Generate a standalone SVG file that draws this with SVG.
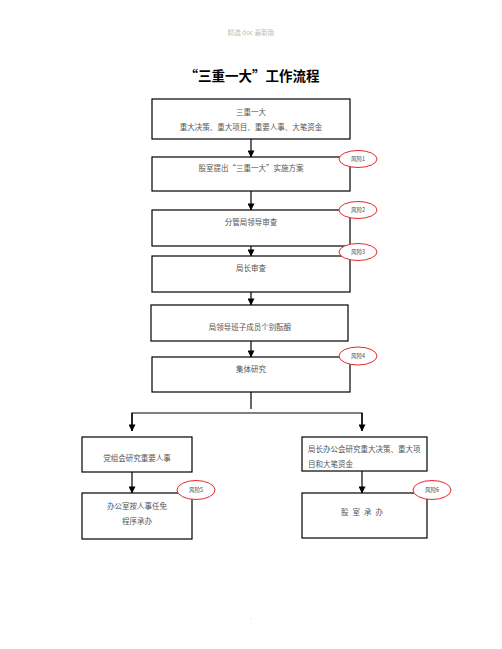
<svg xmlns="http://www.w3.org/2000/svg" width="502" height="649" viewBox="0 0 502 649">
<defs>
<style>
.box{fill:#fff;stroke:#000;stroke-width:1.2}
.t{font-family:"Noto Sans CJK SC","Liberation Serif",serif;font-size:7.5px;fill:#555;text-anchor:middle}
.risk{fill:#fff;stroke:#e8262a;stroke-width:1}
.rt{font-family:"Noto Sans CJK SC","Liberation Serif",serif;font-size:5.5px;fill:#444;text-anchor:middle}
.ln{stroke:#000;stroke-width:1.2;fill:none}
</style>
<marker id="ah" viewBox="0 0 8 8" refX="7.5" refY="4" markerWidth="7" markerHeight="7" markerUnits="userSpaceOnUse" orient="auto">
<path d="M0,0 L8,4 L0,8 Z" fill="#000"/>
</marker>
</defs>
<rect width="502" height="649" fill="#fff"/>
<text x="251" y="35" style="font-family:'Noto Sans CJK SC','Liberation Serif',serif;font-size:6.5px;fill:#bbb;text-anchor:middle">精选 doc 最新版</text>
<text x="252" y="81" style="font-family:'Noto Sans CJK SC','Liberation Sans',sans-serif;font-size:13.5px;font-weight:bold;fill:#000;text-anchor:middle">“三重一大”工作流程</text>

<g id="connectors">
<line class="ln" x1="251" y1="139" x2="251" y2="157" marker-end="url(#ah)"/>
<line class="ln" x1="251" y1="191" x2="251" y2="210" marker-end="url(#ah)"/>
<line class="ln" x1="251" y1="246" x2="251" y2="256" marker-end="url(#ah)"/>
<line class="ln" x1="251" y1="292" x2="251" y2="305" marker-end="url(#ah)"/>
<line class="ln" x1="251" y1="341" x2="251" y2="357" marker-end="url(#ah)"/>
<line class="ln" x1="251" y1="392" x2="251" y2="409"/>
<polyline class="ln" points="132,431 132,413 362,413 362,431" />
<line class="ln" x1="132" y1="413" x2="132" y2="431" marker-end="url(#ah)"/>
<line class="ln" x1="362" y1="413" x2="362" y2="431" marker-end="url(#ah)"/>
<line class="ln" x1="132" y1="472" x2="132" y2="493" marker-end="url(#ah)"/>
<line class="ln" x1="362" y1="471" x2="362" y2="493" marker-end="url(#ah)"/>
</g>

<g id="n1"><rect class="box" x="152" y="99" width="198" height="40"/>
<text class="t" x="251" y="115">三重一大</text>
<text class="t" x="251" y="130">重大决策、重大项目、重要人事、大笔资金</text></g>

<g id="n2"><rect class="box" x="152" y="157" width="198" height="34"/>
<text class="t" x="251" y="171">股室提出“三重一大”实施方案</text></g>
<g id="r1"><ellipse class="risk" cx="358" cy="159" rx="19" ry="8.5"/><text class="rt" x="358" y="161">风险1</text></g>

<g id="n3"><rect class="box" x="152" y="210" width="198" height="36"/>
<text class="t" x="251" y="225">分管局领导审查</text></g>
<g id="r2"><ellipse class="risk" cx="358" cy="210" rx="19" ry="8.5"/><text class="rt" x="358" y="212">风险2</text></g>

<g id="n4"><rect class="box" x="152" y="256" width="198" height="36"/>
<text class="t" x="251" y="271">局长审查</text></g>
<g id="r3"><ellipse class="risk" cx="358" cy="252" rx="19" ry="8.5"/><text class="rt" x="358" y="254">风险3</text></g>

<g id="n5"><rect class="box" x="151" y="305" width="197" height="36"/>
<text class="t" x="250" y="330">局领导班子成员个别酝酿</text></g>

<g id="n6"><rect class="box" x="152" y="357" width="198" height="35"/>
<text class="t" x="251" y="372">集体研究</text></g>
<g id="r4"><ellipse class="risk" cx="358" cy="356" rx="19" ry="9"/><text class="rt" x="358" y="358">风险4</text></g>

<g id="n7"><rect class="box" x="82" y="437" width="110" height="35"/>
<text class="t" x="137" y="461">党组会研究重要人事</text></g>

<g id="n8"><rect class="box" x="302" y="437" width="125" height="34"/>
<text class="t" x="308" y="452" style="text-anchor:start">局长办公会研究重大决策、重大项</text>
<text class="t" x="308" y="467" style="text-anchor:start">目和大笔资金</text></g>

<g id="n9"><rect class="box" x="82" y="493" width="110" height="46"/>
<text class="t" x="137" y="509">办公室按人事任免</text>
<text class="t" x="137" y="524">程序承办</text></g>
<g id="r5"><ellipse class="risk" cx="196" cy="490" rx="19" ry="9.5"/><text class="rt" x="196" y="492">风险5</text></g>

<g id="n10"><rect class="box" x="302" y="493" width="125" height="45"/>
<text class="t" x="364" y="515" style="letter-spacing:4px">股室承办</text></g>
<g id="r6"><ellipse class="risk" cx="432" cy="490" rx="19" ry="9.5"/><text class="rt" x="432" y="492">风险6</text></g>

<text x="251" y="619" style="font-family:'Liberation Serif',serif;font-size:6px;fill:#aaa;text-anchor:middle">.</text>
</svg>
